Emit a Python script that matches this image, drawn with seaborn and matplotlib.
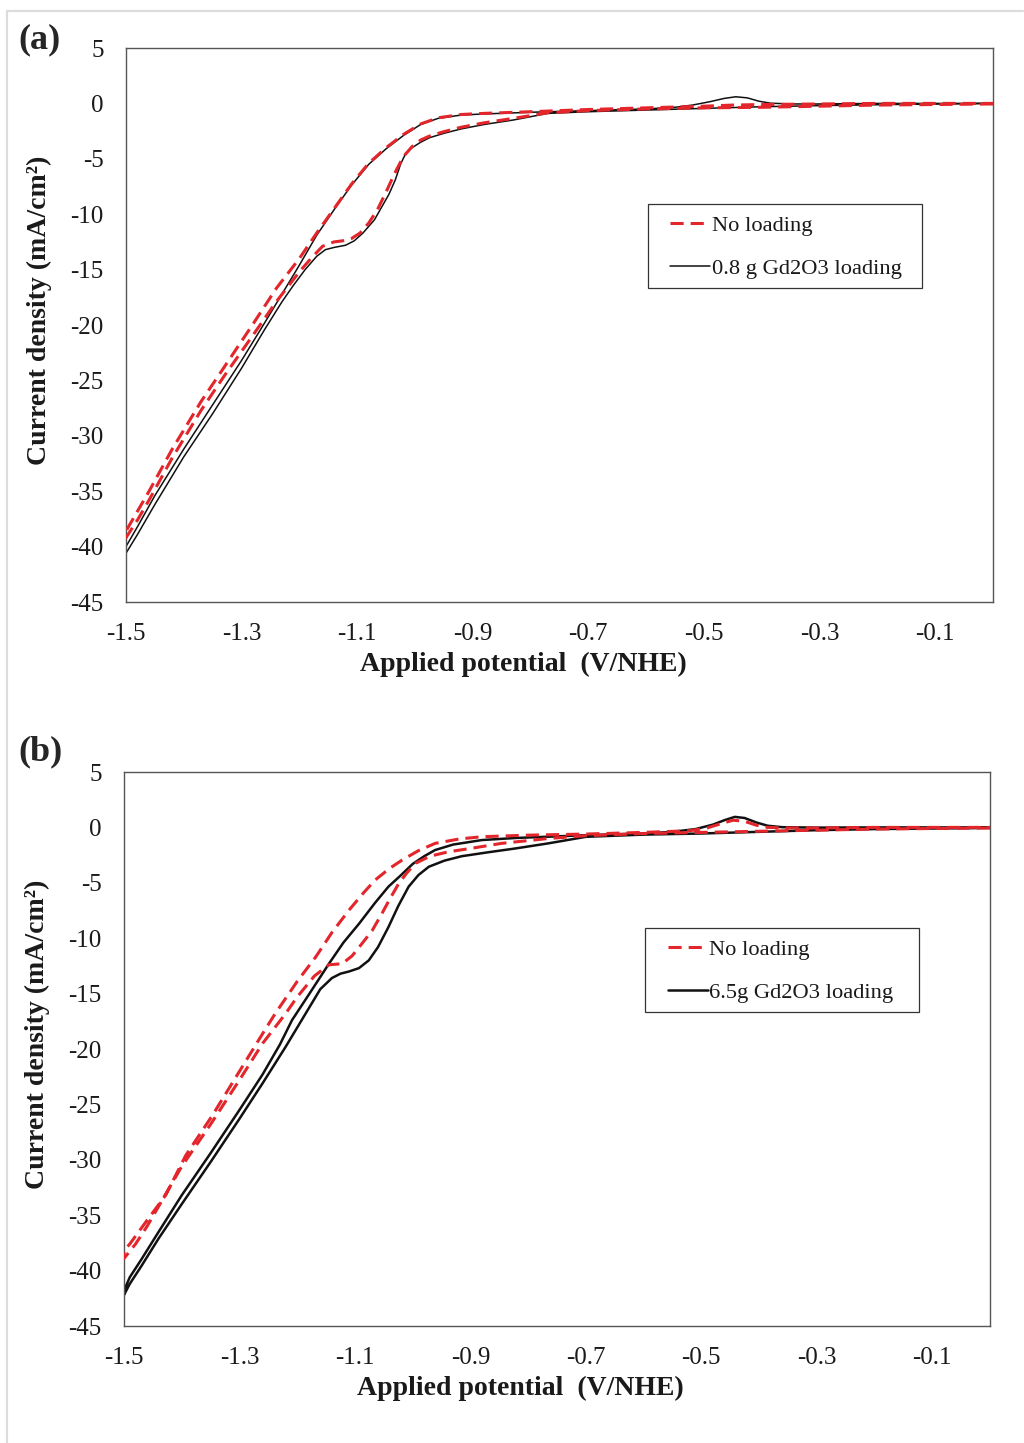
import numpy as np
import pandas as pd
import seaborn as sns
import matplotlib.pyplot as plt
from matplotlib.lines import Line2D
from matplotlib.patches import Rectangle

# ---- panel (a): 0.8 g loading ----
a_black_fwd_x = [0.0, -0.1, -0.2, -0.3, -0.4, -0.5, -0.6, -0.7, -0.77, -0.83, -0.88, -0.92, -0.95,
                 -0.975, -0.99, -1.005, -1.016, -1.025, -1.034, -1.045, -1.057, -1.07, -1.09, -1.105,
                 -1.12, -1.14, -1.155, -1.17, -1.19, -1.21, -1.23, -1.26, -1.30, -1.35, -1.40, -1.45,
                 -1.48, -1.5]
a_black_fwd_y = [0.0, -0.05, -0.12, -0.2, -0.3, -0.45, -0.6, -0.75, -0.9, -1.5, -1.9, -2.3, -2.7,
                 -3.1, -3.5, -4.0, -4.5, -5.5, -6.9, -8.2, -9.3, -10.5, -11.7, -12.4,
                 -12.8, -13.0, -13.2, -13.8, -15.0, -16.4, -17.9, -20.4, -23.9, -28.0, -31.9, -36.2,
                 -38.9, -40.6]
a_black_rev_x = [-1.5, -1.48, -1.45, -1.40, -1.35, -1.30, -1.26, -1.23, -1.20, -1.17, -1.14, -1.11,
                 -1.08, -1.05, -1.02, -0.99, -0.96, -0.92, -0.88, -0.8, -0.7, -0.6, -0.55, -0.52,
                 -0.49, -0.465, -0.445, -0.425, -0.405, -0.385, -0.35, -0.3, -0.2, -0.1, 0.0]
a_black_rev_y = [-40.0, -38.2, -35.4, -31.2, -27.2, -23.2, -19.8, -17.2, -14.6, -11.9, -9.6, -7.4,
                 -5.5, -4.1, -2.9, -1.9, -1.35, -1.05, -0.95, -0.8, -0.65, -0.5, -0.35, -0.15,
                 0.15, 0.45, 0.6, 0.5, 0.2, 0.02, -0.05, -0.05, 0.0, 0.0, 0.0]

a_red_fwd_x = [0.0, -0.1, -0.2, -0.3, -0.4, -0.5, -0.6, -0.7, -0.77, -0.83, -0.88, -0.92, -0.95,
               -0.975, -0.99, -1.005, -1.02, -1.035, -1.05, -1.065, -1.08, -1.095, -1.11, -1.125,
               -1.14, -1.16, -1.18, -1.2, -1.24, -1.28, -1.33, -1.37, -1.42, -1.46, -1.48, -1.5]
a_red_fwd_y = [-0.05, -0.1, -0.15, -0.25, -0.35, -0.4, -0.5, -0.65, -0.85, -1.35, -1.75, -2.15, -2.55,
               -2.95, -3.3, -3.9, -4.8, -6.3, -8.0, -9.6, -10.8, -11.7, -12.2, -12.4,
               -12.5, -12.9, -14.0, -15.2, -17.9, -20.9, -24.6, -27.7, -32.0, -35.8, -37.6, -39.2]
a_red_rev_x = [-1.5, -1.46, -1.42, -1.37, -1.33, -1.28, -1.24, -1.20, -1.17, -1.14, -1.11, -1.08,
               -1.05, -1.02, -0.99, -0.96, -0.92, -0.88, -0.8, -0.7, -0.6, -0.5, -0.45, -0.4,
               -0.3, -0.2, -0.1, 0.0]
a_red_rev_y = [-38.6, -35.0, -31.2, -26.9, -23.8, -19.9, -16.7, -14.0, -11.7, -9.5, -7.3, -5.4,
               -4.0, -2.8, -1.85, -1.3, -1.0, -0.9, -0.75, -0.55, -0.4, -0.25, -0.15, -0.1,
               -0.05, 0.0, 0.0, 0.0]

# ---- panel (b): 6.5 g loading ----
b_black_fwd_x = [0.0, -0.1, -0.2, -0.3, -0.4, -0.5, -0.6, -0.7, -0.765, -0.822, -0.87, -0.915, -0.945,
                 -0.972, -0.99, -1.007, -1.025, -1.042, -1.06, -1.076, -1.093, -1.11, -1.125, -1.14,
                 -1.16, -1.19, -1.22, -1.26, -1.30, -1.35, -1.40, -1.44, -1.47, -1.49, -1.5]
b_black_fwd_y = [-0.05, -0.1, -0.15, -0.25, -0.4, -0.55, -0.65, -0.85, -1.44, -1.9, -2.25, -2.6, -3.0,
                 -3.55, -4.3, -5.35, -7.1, -9.0, -10.8, -12.0, -12.7, -13.0, -13.2, -13.6,
                 -14.6, -17.2, -19.8, -23.1, -26.3, -30.2, -34.0, -37.1, -39.6, -41.2, -42.2]
b_black_rev_x = [-1.5, -1.49, -1.47, -1.44, -1.40, -1.35, -1.30, -1.26, -1.23, -1.209, -1.18, -1.145,
                 -1.12, -1.093, -1.065, -1.042, -1.02, -1.0, -0.98, -0.961, -0.93, -0.88, -0.82,
                 -0.765, -0.7, -0.6, -0.55, -0.51, -0.48, -0.46, -0.442, -0.425, -0.405, -0.385,
                 -0.36, -0.3, -0.2, -0.1, 0.0]
b_black_rev_y = [-41.8, -40.6, -39.0, -36.5, -33.2, -29.4, -25.5, -22.3, -19.6, -17.4, -15.1, -12.3,
                 -10.4, -8.7, -6.8, -5.35, -4.3, -3.3, -2.6, -2.04, -1.55, -1.14, -0.95,
                 -0.84, -0.7, -0.55, -0.4, -0.15, 0.25, 0.65, 0.95, 0.85, 0.45, 0.15,
                 0.02, -0.02, 0.0, 0.0, 0.0]

b_red_fwd_x = [0.0, -0.1, -0.2, -0.3, -0.4, -0.5, -0.6, -0.7, -0.765, -0.846, -0.9, -0.938, -0.97,
               -0.995, -1.01, -1.024, -1.04, -1.053, -1.07, -1.088, -1.105, -1.122, -1.145, -1.17,
               -1.2, -1.22, -1.26, -1.30, -1.35, -1.40, -1.43, -1.46, -1.48, -1.5]
b_red_fwd_y = [-0.05, -0.1, -0.15, -0.25, -0.35, -0.45, -0.55, -0.75, -1.0, -1.44, -1.9, -2.2, -2.6,
               -3.24, -4.1, -5.05, -6.5, -7.75, -9.3, -10.5, -11.6, -12.3, -12.4, -13.4,
               -15.3, -16.8, -19.5, -22.8, -26.8, -30.6, -33.3, -36.0, -37.6, -38.9]
b_red_rev_x = [-1.5, -1.49, -1.462, -1.428, -1.393, -1.347, -1.301, -1.255, -1.238, -1.2, -1.168,
               -1.14, -1.11, -1.085, -1.065, -1.04, -1.018, -0.99, -0.961, -0.92, -0.88, -0.8,
               -0.7, -0.6, -0.52, -0.49, -0.465, -0.445, -0.425, -0.405, -0.385, -0.35, -0.3,
               -0.2, -0.1, 0.0]
b_red_rev_y = [-38.2, -37.6, -35.6, -33.2, -29.6, -26.0, -22.1, -18.2, -16.8, -13.9, -11.7,
               -9.5, -7.45, -5.9, -4.75, -3.7, -2.94, -2.1, -1.44, -1.05, -0.84, -0.7,
               -0.6, -0.45, -0.3, -0.05, 0.35, 0.65, 0.55, 0.2, 0.0, -0.05, -0.05,
               0.0, 0.0, 0.0]

x_ticks = [-1.5, -1.3, -1.1, -0.9, -0.7, -0.5, -0.3, -0.1]
x_tick_labels = ['-1.5', '-1.3', '-1.1', '-0.9', '-0.7', '-0.5', '-0.3', '-0.1']
y_ticks = [5, 0, -5, -10, -15, -20, -25, -30, -35, -40, -45]

RED = '#e3262b'
BLACK = '#111111'

sns.set_style('white')
plt.rcParams['font.family'] = ['Liberation Serif', 'DejaVu Serif']
plt.rcParams['axes.unicode_minus'] = False


def loop(fx, fy, rx, ry, name):
    return pd.DataFrame({'E': fx + rx, 'j': fy + ry, 'series': name})


def draw_panel(ax, red_df, black_df, black_label, black_lw):
    sns.lineplot(data=red_df, x='E', y='j', sort=False, estimator=None, ax=ax,
                 color=RED, lw=2.2, linestyle=(0, (4.3, 2.3)), label='No loading', zorder=3)
    sns.lineplot(data=black_df, x='E', y='j', sort=False, estimator=None, ax=ax,
                 color=BLACK, lw=black_lw, label=black_label, zorder=2)
    ax.set_xlim(-1.5, 0)
    ax.set_ylim(-45, 5)
    ax.set_xticks(x_ticks)
    ax.set_xticklabels(x_tick_labels)
    ax.set_yticks(y_ticks)
    ax.set_yticklabels([str(v) for v in y_ticks])
    ax.tick_params(axis='both', length=0, labelsize=18, colors='#1a1a1a')
    ax.tick_params(axis='y', pad=16)
    ax.tick_params(axis='x', pad=15)
    for s in ax.spines.values():
        s.set_color('#555555')
        s.set_linewidth(1.0)
    ax.set_xlabel('Applied potential  (V/NHE)', fontsize=20, fontweight='bold', color='#1a1a1a')
    ax.set_ylabel('Current density (mA/cm\u00b2)', fontsize=20, fontweight='bold', color='#1a1a1a')
    ax.xaxis.set_label_coords(0.458, -0.09)
    ax.yaxis.set_label_coords(-0.085, 0.527)
    # legend box drawn separately so the padding matches the original
    ax.add_patch(Rectangle((0.602, 0.567), 0.316, 0.151, transform=ax.transAxes,
                           facecolor='white', edgecolor='#333333', lw=0.9, zorder=4))
    leg = ax.legend(loc='upper left', bbox_to_anchor=(0.628, 0.698), fontsize=16.2, frameon=False,
                    handlelength=1.78, handletextpad=0.05, labelspacing=1.0, borderpad=0,
                    borderaxespad=0)
    leg.set_zorder(5)
    for t in leg.get_texts():
        t.set_color('#1a1a1a')


fig = plt.figure(figsize=(10.24, 14.43), dpi=100)
ax1 = fig.add_axes([0.1230, 0.58281, 0.8467, 0.38392])
ax2 = fig.add_axes([0.12109, 0.08108, 0.8457, 0.38392])

draw_panel(ax1,
           loop(a_red_fwd_x, a_red_fwd_y, a_red_rev_x, a_red_rev_y, 'No loading'),
           loop(a_black_fwd_x, a_black_fwd_y, a_black_rev_x, a_black_rev_y, '0.8 g'),
           '0.8 g Gd2O3 loading', 1.1)
draw_panel(ax2,
           loop(b_red_fwd_x, b_red_fwd_y, b_red_rev_x, b_red_rev_y, 'No loading'),
           loop(b_black_fwd_x, b_black_fwd_y, b_black_rev_x, b_black_rev_y, '6.5 g'),
           '6.5g Gd2O3 loading', 1.8)

fig.text(18 / 1024, 1 - 40 / 1443, '(a)', fontsize=26, fontweight='bold', va='center', ha='left')
fig.text(18 / 1024, 1 - 752 / 1443, '(b)', fontsize=26, fontweight='bold', va='center', ha='left')

# light frame around the figure (top and left edges)
fig.add_artist(Line2D([7 / 1024, 1023 / 1024], [1 - 11 / 1443, 1 - 11 / 1443],
                      transform=fig.transFigure, color='#dcdcdc', lw=1.6))
fig.add_artist(Line2D([7 / 1024, 7 / 1024], [1 - 11 / 1443, 0],
                      transform=fig.transFigure, color='#dcdcdc', lw=1.6))

fig.savefig('out.png', dpi=100)
